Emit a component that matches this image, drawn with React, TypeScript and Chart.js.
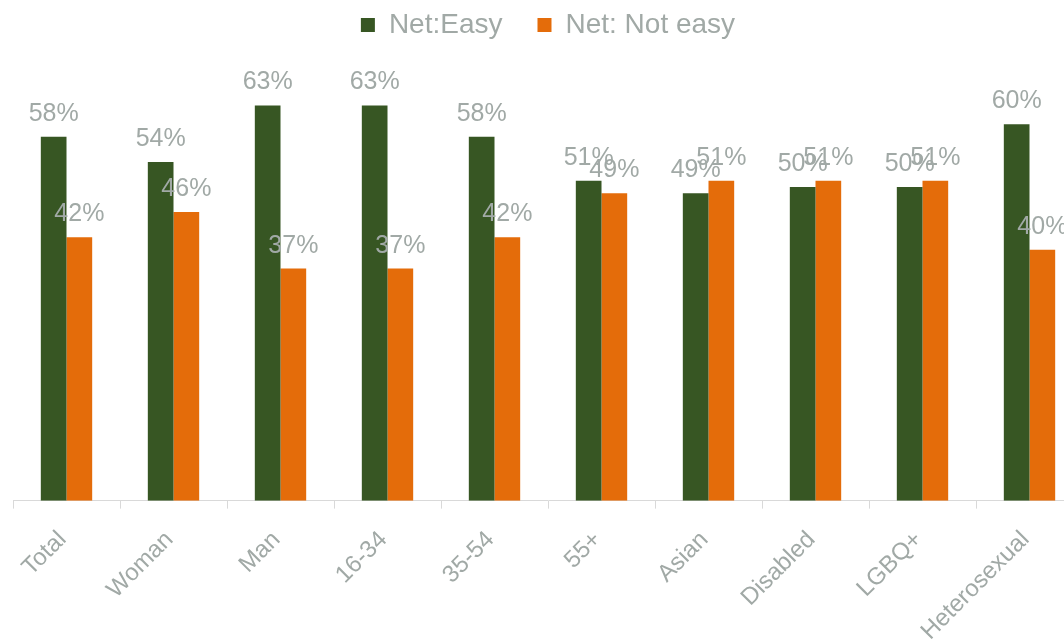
import React, { useEffect, useRef } from "react";
import { Chart, registerables } from "chart.js";

Chart.register(...registerables);

const categories = ["Total", "Woman", "Man", "16-34", "35-54", "55+", "Asian", "Disabled", "LGBQ+", "Heterosexual"];
const netEasy = [58, 54, 63, 63, 58, 51, 49, 50, 50, 60];
const netNotEasy = [42, 46, 37, 37, 42, 49, 51, 51, 51, 40];

const GREEN = "#375623";
const ORANGE = "#E46C0A";
const TEXT = "#A1A9A6";
const FONT = "Arial, 'Liberation Sans', sans-serif";

const labelPlugin = {
  id: "barLabels",
  afterDatasetsDraw(chart: any) {
    const ctx = chart.ctx;
    ctx.save();
    ctx.font = `25px ${FONT}`;
    ctx.fillStyle = TEXT;
    ctx.textAlign = "center";
    ctx.textBaseline = "alphabetic";
    chart.data.datasets.forEach((ds: any, di: number) => {
      const meta = chart.getDatasetMeta(di);
      meta.data.forEach((el: any, i: number) => {
        ctx.fillText(`${ds.data[i]}%`, el.x, el.y - 16);
      });
    });
    ctx.restore();
  },
};

export default function App() {
  const ref = useRef<HTMLCanvasElement>(null);
  useEffect(() => {
    if (!ref.current) return;
    const chart = new Chart(ref.current, {
      type: "bar",
      data: {
        labels: categories,
        datasets: [
          { label: "Net:Easy", data: netEasy, backgroundColor: GREEN },
          { label: "Net: Not easy", data: netNotEasy, backgroundColor: ORANGE },
        ],
      },
      options: {
        responsive: false,
        animation: false,
        devicePixelRatio: 1,
        layout: { padding: { left: 13, right: 7, top: -24, bottom: -22 } },
        datasets: { bar: { categoryPercentage: 0.48, barPercentage: 1.0 } },
        plugins: {
          legend: {
            position: "top",
            align: "center",
            labels: {
              boxWidth: 14,
              boxHeight: 14,
              padding: 35,
              color: TEXT,
              font: { size: 28, family: FONT },
            },
          },
          tooltip: { enabled: false },
        },
        scales: {
          x: {
            grid: {
              display: true,
              drawOnChartArea: false,
              drawTicks: true,
              tickLength: 8,
              color: "#D9D9D9",
              offset: true,
            },
            border: { display: true, color: "#D9D9D9", width: 1 },
            ticks: {
              color: TEXT,
              font: { size: 24, family: FONT },
              maxRotation: 45,
              minRotation: 45,
              padding: 17,
              labelOffset: -4,
              autoSkip: false,
            },
          },
          y: {
            display: false,
            min: 0,
            max: 72,
          },
        },
      },
      plugins: [labelPlugin],
    });
    return () => chart.destroy();
  }, []);
  return (
    <div style={{ position: "fixed", left: 0, top: 0, width: 1064, height: 641, overflow: "hidden", background: "#fff" }}>
      <canvas ref={ref} width={1090} height={641} style={{ display: "block" }} />
    </div>
  );
}
